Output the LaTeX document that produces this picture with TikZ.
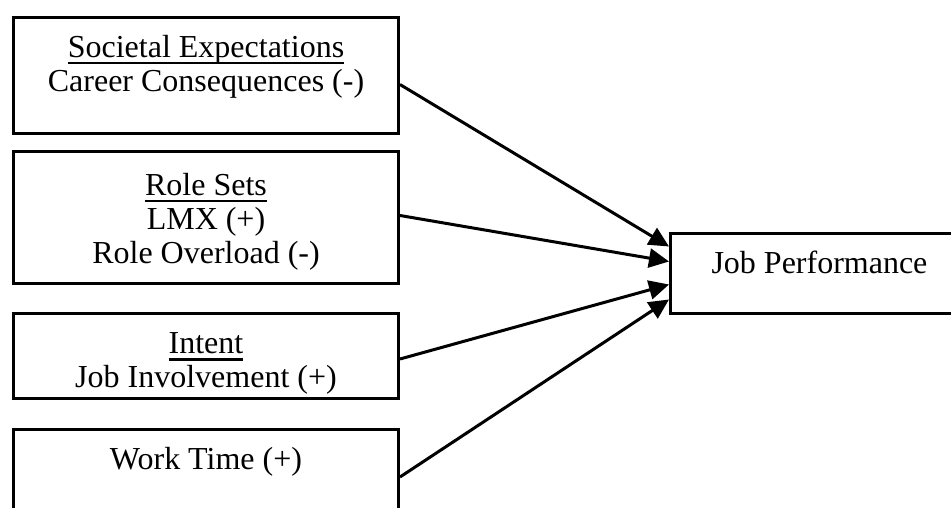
\documentclass[tikz,border=0pt]{standalone}
\usepackage{fontspec}
\setmainfont{Liberation Serif}
\usetikzlibrary{arrows.meta, positioning}
\newsavebox{\ulinebox}
\newcommand{\uln}[1]{\sbox{\ulinebox}{#1}\rlap{\rule[-7pt]{\wd\ulinebox}{2.4pt}}\usebox{\ulinebox}}
\newcommand{\boxtext}[3]{\parbox[t][#2][t]{#1}{\centering\rule{0pt}{40pt}#3}}

\begin{document}
\begin{tikzpicture}[x=1pt, y=-1pt]
    \tikzstyle{every node} = [font=\fontsize{32}{34}\selectfont]
    \tikzstyle{factor}     = [draw, line width=3pt, inner sep=0pt, anchor=north west]
    \tikzstyle{link}       = [line width=3pt, -{Triangle[length=20pt,width=19pt]}]
    \clip (0,0) rectangle (951,508);

    \node[factor] (soc)  at (12,16)  {\boxtext{385pt}{116pt}{\uln{Societal Expectations}\\Career Consequences (-)}};
    \node[factor] (role) at (12,150) {\boxtext{385pt}{132pt}{\rule{0pt}{44pt}\uln{Role Sets}\\LMX (+)\\Role Overload (-)}};
    \node[factor] (int)  at (12,312) {\boxtext{385pt}{85pt}{\uln{Intent}\\Job Involvement (+)}};
    \node[factor] (work) at (12,428) {\boxtext{385pt}{97pt}{Work Time (+)}};
    \node[factor] (perf) at (669,232) {\boxtext{298pt}{80pt}{Job Performance}};

    \path ([yshift=-9pt]soc.east)  edge[link] ([yshift=27pt]perf.west)
          ([yshift=2pt]role.east)  edge[link] ([yshift=12pt]perf.west)
          ([yshift=-3pt]int.east)  edge[link] ([yshift=-11pt]perf.west)
          ([yshift=1pt]work.east)  edge[link] ([yshift=-26pt]perf.west);

\end{tikzpicture}
\end{document}
